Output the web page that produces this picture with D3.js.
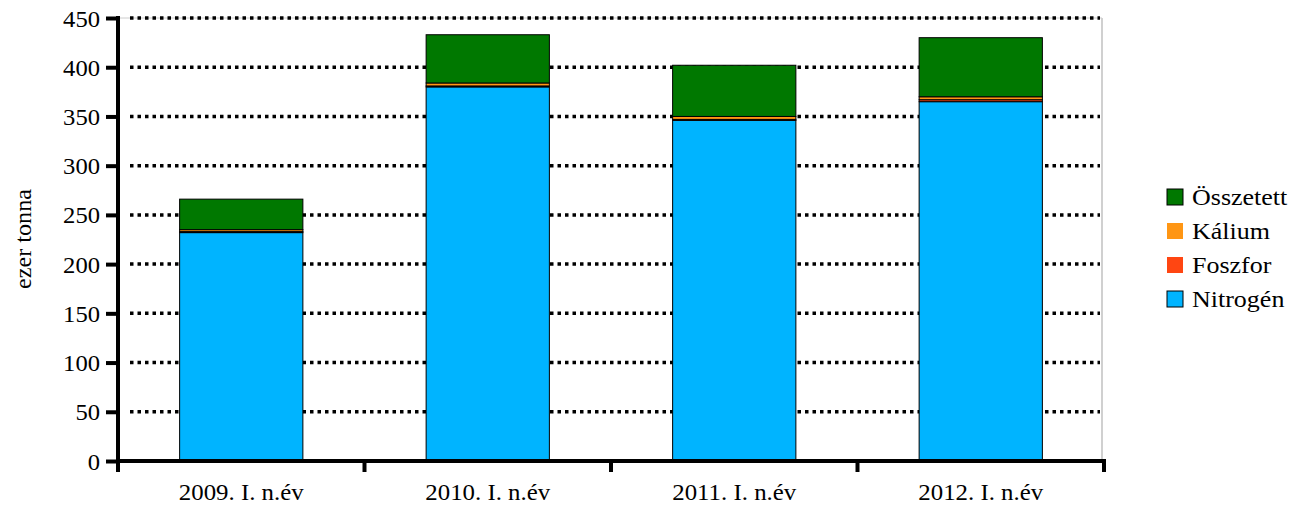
<!DOCTYPE html>
<html><head><meta charset="utf-8">
<script src="https://cdn.jsdelivr.net/npm/d3@7"></script>
<style>body{margin:0;background:#fff}svg{display:block}svg text{font-family:"Liberation Serif","Tinos","Times New Roman","DejaVu Serif",serif !important}</style>
</head><body><svg id="c" width="1304" height="508"></svg>
<script>
const categories = ["2009. I. n.év","2010. I. n.év","2011. I. n.év","2012. I. n.év"];
const nitrogen = [232, 380, 346, 365];
const foszfor = [1, 1, 1, 2];
const kalium = [2, 3, 3, 3];
const osszetett = [31, 49, 52, 60];
const seriesNames = ["Nitrogén","Foszfor","Kálium","Összetett"];
const seriesColors = ["#00b4ff","#ff4612","#ff9614","#007800"];
const yTicks = [0,50,100,150,200,250,300,350,400,450];

const svg = d3.select("#c");
const L = 118, R = 1104, T = 18, B = 461;
const x = d3.scaleBand().domain(categories).range([L, R]).paddingInner(0.5).paddingOuter(0.25);
const y = d3.scaleLinear().domain([0, 450]).range([B, T]);

// stretch text to a target width factor relative to natural serif width
function stretch(sel, f){
  sel.each(function(){
    const w = this.getComputedTextLength();
    d3.select(this).attr("textLength", w*f).attr("lengthAdjust","spacingAndGlyphs");
  });
}

const rows = categories.map((c,i)=>({cat:c, "Nitrogén":nitrogen[i], "Foszfor":foszfor[i], "Kálium":kalium[i], "Összetett":osszetett[i]}));
const stack = d3.stack().keys(seriesNames)(rows);

// plot border (light)
svg.append("line").attr("x1",L).attr("x2",R-2).attr("y1",T).attr("y2",T).attr("stroke","#ccc").attr("stroke-width",1);
svg.append("line").attr("x1",R-2).attr("x2",R-2).attr("y1",T).attr("y2",B).attr("stroke","#d0d0d0").attr("stroke-width",2);

// gridlines
svg.append("g").selectAll("line").data(yTicks.filter(d=>d>0)).join("line")
  .attr("x1",L+12).attr("x2",R-4).attr("y1",d=>y(d)).attr("y2",d=>y(d))
  .attr("stroke","#000").attr("stroke-width",3.5).attr("stroke-dasharray","3.5,4");

// bars
svg.append("g").selectAll("g").data(stack).join("g")
  .attr("fill",(d,i)=>seriesColors[i])
  .selectAll("rect").data(d=>d).join("rect")
  .attr("x",d=>x(d.data.cat)).attr("width",x.bandwidth())
  .attr("y",d=>y(d[1])).attr("height",d=>y(d[0])-y(d[1]))
  .attr("stroke","#000").attr("stroke-width",1);

// y axis
const ya = svg.append("g").attr("transform",`translate(${L},0)`)
  .call(d3.axisLeft(y).tickValues(yTicks).tickSize(12).tickPadding(6));
ya.attr("font-family",null).attr("font-size",null);
ya.select(".domain").remove();
ya.selectAll(".tick line").attr("stroke","#000").attr("stroke-width",4);
ya.selectAll("text").attr("font-size",23).attr("fill","#000").attr("dy","0.35em").call(stretch,1.07);
svg.append("line").attr("x1",L).attr("x2",L).attr("y1",T-2).attr("y2",B+2).attr("stroke","#000").attr("stroke-width",4);

// x axis
svg.append("line").attr("x1",L-2).attr("x2",R+2).attr("y1",B).attr("y2",B).attr("stroke","#000").attr("stroke-width",4);
const bounds = d3.range(categories.length+1).map(i=>L + i*(R-L)/categories.length);
svg.append("g").selectAll("line").data(bounds).join("line")
  .attr("x1",d=>d).attr("x2",d=>d).attr("y1",B).attr("y2",B+11).attr("stroke","#000").attr("stroke-width",4);
svg.append("g").selectAll("text").data(categories).join("text")
  .attr("x",d=>x(d)+x.bandwidth()/2).attr("y",500).attr("text-anchor","middle")
  .attr("font-size",23).attr("fill","#000").text(d=>d).call(stretch,1.08);

// y label
svg.append("text").attr("transform","translate(31,239) rotate(-90)").attr("text-anchor","middle")
  .attr("font-size",23).attr("fill","#000").text("ezer tonna").call(stretch,1.05);

// legend
const leg = svg.append("g").selectAll("g").data(seriesNames.slice().reverse()).join("g")
  .attr("transform",(d,i)=>`translate(1167,${197+i*34})`);
leg.append("rect").attr("x",0).attr("y",-8).attr("width",16).attr("height",16)
  .attr("fill",d=>seriesColors[seriesNames.indexOf(d)])
  .attr("stroke",d=>(d==="Összetett"||d==="Nitrogén")?"#000":"none").attr("stroke-width",1);
leg.append("text").attr("x",25).attr("y",0).attr("dy","0.35em").attr("font-size",23).attr("fill","#000").text(d=>d).call(stretch,1.13);
</script></body></html>
